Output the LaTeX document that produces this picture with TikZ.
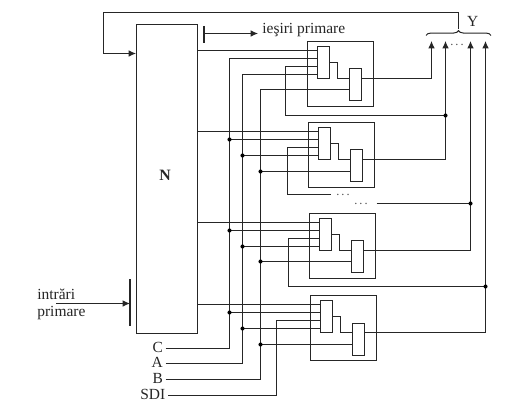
\documentclass[tikz,border=0pt]{standalone}
\usepackage{fontspec}
\setmainfont{Liberation Serif}
\usetikzlibrary{arrows.meta,decorations.pathreplacing}

\begin{document}
\begin{tikzpicture}[
    x=0.02cm,y=-0.02cm,
    wire/.style={
        line width=0.57pt,
        color=black!85,
    },
    wirearrow/.style={
        wire,
        -{Latex[length=4.2pt,width=3.8pt]},
    },
    bigbox/.style={
        draw=black!85,
        line width=0.57pt,
        minimum width=1.22cm,
        minimum height=6.18cm,
        inner sep=0pt,
    },
    cellbox/.style={
        draw=black!85,
        line width=0.57pt,
        minimum width=1.32cm,
        minimum height=1.30cm,
        inner sep=0pt,
    },
    latchbox/.style={
        draw=black!85,
        line width=0.57pt,
        fill=white,
        minimum width=0.24cm,
        minimum height=0.64cm,
        inner sep=0pt,
    },
    pinbar/.style={
        line width=1.15pt,
        color=black!85,
    },
    jdot/.style={
        circle,
        fill=black,
        minimum size=2.3pt,
        inner sep=0pt,
    },
    lbl/.style={
        inner sep=0pt,
        font=\fontsize{8.8}{10}\selectfont,
        color=black!85,
    },
    buslbl/.style={
        lbl,
        anchor=east,
        inner xsep=1.4pt,
    },
    dots/.style={
        inner sep=0pt,
        font=\fontsize{7}{8}\selectfont,
        color=black!70,
    },
]
\useasboundingbox (0,0) rectangle (514,412);

% main block
\node[bigbox] (N) at (167,179) {};
\node[lbl,font=\fontsize{9}{10}\selectfont\bfseries] (Nlbl) at (165,175) {N};

% the four cells
\node[cellbox] (cell1) at (340.5,74) {};
\node[latchbox] (a1) at (323.5,62.5) {};
\node[latchbox] (b1) at (355.5,84.5) {};

\node[cellbox] (cell2) at (341.5,155) {};
\node[latchbox] (a2) at (324.5,143.5) {};
\node[latchbox] (b2) at (356.5,165.5) {};

\node[cellbox] (cell3) at (342.5,246) {};
\node[latchbox] (a3) at (325.5,234.5) {};
\node[latchbox] (b3) at (357.5,256.5) {};

\node[cellbox] (cell4) at (343.5,328) {};
\node[latchbox] (a4) at (326.5,316.5) {};
\node[latchbox] (b4) at (358.5,339.5) {};

% labels
\node[buslbl] (C) at (165.7,347) {C};
\node[buslbl] (A) at (165.7,362) {A};
\node[buslbl] (B) at (165.7,378) {B};
\node[buslbl] (SDI) at (168,394) {SDI};
\node[lbl,anchor=west] (iesiri) at (262,30.5) {ieşiri primare};
\node[lbl,anchor=west] (intrari) at (37,294) {intrări};
\node[lbl,anchor=west] (primare) at (37,313) {primare};
\node[lbl] (Y) at (472.7,21.5) {Y};

% bus and output positions
\coordinate (busC) at (229.5,348.5);
\coordinate (busA) at (242.5,363.5);
\coordinate (busB) at (260.5,379.5);
\coordinate (busS) at (276.5,395.5);
\coordinate (y1) at (431.5,41);
\coordinate (y2) at (445.5,41);
\coordinate (y3) at (470.5,41);
\coordinate (y4) at (485.5,41);

% scan wires leaving the cells
\coordinate (scan1) at (285.5,66.5);
\coordinate (scan2) at (287.5,147.5);
\coordinate (scan3) at (288.5,238.5);
\coordinate (scan4) at (276.5,320.5);
\coordinate (out1) at (445.5,115.5);
\coordinate (cut1) at (330.5,194.5);
\coordinate (cut2) at (376.5,203.5);
\coordinate (out2) at (470.5,203.5);
\coordinate (out3) at (485.5,286.5);

% feedback and primary pins
\coordinate (fbtop) at (458.5,12.5);
\coordinate (fbend) at (458.5,29);
\coordinate (fbleft) at (103.5,53.5);
\coordinate (barI1) at (130,279);
\coordinate (barI2) at (130,326);
\coordinate (barO1) at (204,26);
\coordinate (barO2) at (204,43);
\coordinate (barOm) at (204,33.5);
\coordinate (iesend) at (258,33.5);
\coordinate (intstart) at (56,303.5);
\coordinate (intend) at (130,303.5);

\draw[wirearrow] (fbend) -- (fbtop) -| (fbleft) -- (N.west |- fbleft);
\draw[pinbar] (barO1) -- (barO2);
\draw[wirearrow] (barOm) -- (iesend);
\draw[pinbar] (barI1) -- (barI2);
\draw[wirearrow] (intstart) -- (intend);
\draw[wire,decorate,decoration={brace,amplitude=2.8pt}] (426,35.5) -- (491,35.5);

% cell 1
\draw[wire] (N.east |- 0,50.5) -- (a1.west |- 0,50.5);
\draw[wire] (C.east |- busC) -- (busC) |- (a1.west |- 0,58.5);
\draw[wire] (A.east |- busA) -- (busA) |- (a1.west |- 0,74.5);
\draw[wire] (B.east |- busB) -- (busB) |- (b1.west |- 0,89.5);
\draw[wire] (SDI.east |- busS) -- (busS) |- (a4.west |- scan4);
\draw[wire] (a1.west |- scan1) -- (scan1) |- (out1);
\draw[wire] (a1.east) -| (337.5,78.5) -- (b1.west |- 0,78.5);
\draw[wirearrow] (b1.east |- 0,78.5) -| (y1);

% cell 2
\draw[wire] (N.east |- 0,131.5) -- (a2.west |- 0,131.5);
\draw[wire] (busC |- 0,139.5) -- (a2.west |- 0,139.5);
\draw[wire] (busA |- 0,155.5) -- (a2.west |- 0,155.5);
\draw[wire] (busB |- 0,171.5) -- (b2.west |- 0,171.5);
\draw[wire] (a2.west |- scan2) -- (scan2) |- (cut1);
\draw[wire] (a2.east) -| (338.5,159.5) -- (b2.west |- 0,159.5);
\draw[wirearrow] (b2.east |- 0,159.5) -| (y2);

% cell 3
\draw[wire] (N.east |- 0,222.5) -- (a3.west |- 0,222.5);
\draw[wire] (busC |- 0,230.5) -- (a3.west |- 0,230.5);
\draw[wire] (busA |- 0,246.5) -- (a3.west |- 0,246.5);
\draw[wire] (busB |- 0,261.5) -- (b3.west |- 0,261.5);
\draw[wire] (a3.west |- scan3) -- (scan3) |- (out3);
\draw[wire] (a3.east) -| (339.5,250.5) -- (b3.west |- 0,250.5);
\draw[wire] (cut2) -- (out2);
\draw[wirearrow] (b3.east |- 0,250.5) -| (y3);

% cell 4
\draw[wire] (N.east |- 0,304.5) -- (a4.west |- 0,304.5);
\draw[wire] (busC |- 0,312.5) -- (a4.west |- 0,312.5);
\draw[wire] (busA |- 0,328.5) -- (a4.west |- 0,328.5);
\draw[wire] (busB |- 0,344.5) -- (b4.west |- 0,344.5);
\draw[wire] (a4.east) -| (340.5,332.5) -- (b4.west |- 0,332.5);
\draw[wirearrow] (b4.east |- 0,332.5) -| (y4);

% junctions
\node[jdot] (jC2) at (busC |- 0,139.5) {};
\node[jdot] (jA2) at (busA |- 0,155.5) {};
\node[jdot] (jB2) at (busB |- 0,171.5) {};
\node[jdot] (jC3) at (busC |- 0,230.5) {};
\node[jdot] (jA3) at (busA |- 0,246.5) {};
\node[jdot] (jB3) at (busB |- 0,261.5) {};
\node[jdot] (jC4) at (busC |- 0,312.5) {};
\node[jdot] (jA4) at (busA |- 0,328.5) {};
\node[jdot] (jB4) at (busB |- 0,344.5) {};
\node[jdot] (jO1) at (out1) {};
\node[jdot] (jO2) at (out2) {};
\node[jdot] (jO3) at (out3) {};

\node[dots] (dots1) at (343,195) {.\,.\,.};
\node[dots] (dots2) at (361,204) {.\,.\,.};
\node[dots] (dots3) at (457,45) {.\,.\,.};
\end{tikzpicture}
\end{document}
